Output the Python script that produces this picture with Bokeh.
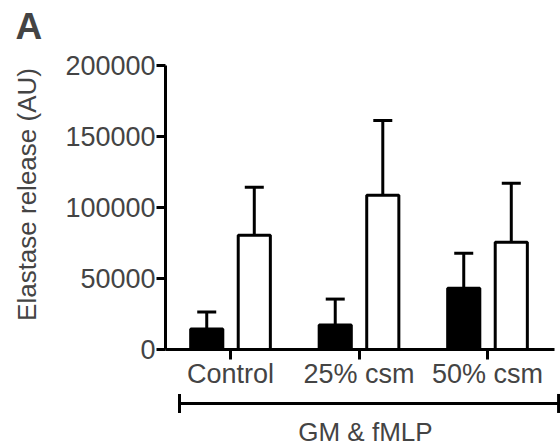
import math
from bokeh.plotting import figure
from bokeh.models import (Range1d, FixedTicker, NumeralTickFormatter, Label,
                          Whisker, TeeHead, ColumnDataSource)
from bokeh.embed import file_html
from bokeh.resources import INLINE

# ---- data ----
categories = ["Control", "25% csm", "50% csm"]
black_mean = [14400, 17200, 43200]
black_err = [12000, 18300, 24600]
white_mean = [80500, 108600, 75600]
white_err = [33700, 52700, 41400]
y_ticks = [0, 50000, 100000, 150000, 200000]
y_title = "Elastase release (AU)"
group_label = "GM & fMLP"
panel_label = "A"

FONT = "Liberation Sans"
FS = "26px"
TFS = "27px"

xs = list(range(len(categories)))
off = 0.185
bw = 0.25

# the frame covers the whole canvas; axes are pinned with fixed_location
p = figure(width=560, height=448, output_backend="svg", toolbar_location=None,
           x_range=Range1d(-1.790, 2.568),
           y_range=Range1d(-69720, 245770),
           min_border_left=0, min_border_right=0, min_border_top=0,
           min_border_bottom=0)
p.outline_line_color = None
p.xgrid.visible = False
p.ygrid.visible = False

src_b = ColumnDataSource(dict(x=[x - off for x in xs], top=black_mean,
                              up=[m + e for m, e in zip(black_mean, black_err)]))
src_w = ColumnDataSource(dict(x=[x + off for x in xs], top=white_mean,
                              up=[m + e for m, e in zip(white_mean, white_err)]))

for src in (src_b, src_w):
    w = Whisker(base="x", lower="top", upper="up", source=src, dimension="height",
                line_width=3, line_color="black",
                upper_head=TeeHead(size=19, line_width=3, line_color="black"),
                lower_head=None, level="underlay")
    p.add_layout(w)

p.vbar(x="x", top="top", bottom=0, width=bw, source=src_b,
       fill_color="black", line_color="black", line_width=3)
p.vbar(x="x", top="top", bottom=0, width=bw, source=src_w,
       fill_color="white", line_color="black", line_width=3)

# y axis pinned at the left end of the category axis
ya = p.yaxis[0]
ya.fixed_location = -0.506
ya.ticker = FixedTicker(ticks=y_ticks)
ya.bounds = (0, 200000)
ya.formatter = NumeralTickFormatter(format="0")
ya.major_label_text_font = FONT
ya.major_label_text_font_size = TFS
ya.major_label_standoff = 1
ya.axis_line_width = 3
ya.major_tick_line_width = 3
ya.major_tick_in = 0
ya.major_tick_out = 9
ya.minor_tick_line_color = None

# x axis pinned at y = 0
xa = p.xaxis[0]
xa.fixed_location = 0
xa.bounds = (-0.506, 2.52)
xa.ticker = FixedTicker(ticks=xs)
xa.major_label_overrides = {i: c for i, c in zip(xs, categories)}
xa.major_label_text_font = FONT
xa.major_label_text_font_size = TFS
xa.major_label_standoff = 0
xa.axis_line_width = 3
xa.major_tick_line_width = 3
xa.major_tick_in = 0
xa.major_tick_out = 10
xa.minor_tick_line_color = None

# y axis title
p.add_layout(Label(x=-1.587, y=109150, text=y_title, angle=math.pi / 2,
                   text_align="center", text_baseline="middle",
                   text_font=FONT, text_font_size=FS))

# group bracket
br = ColumnDataSource(dict(b=[-38000], lo=[-0.397], hi=[2.553]))
p.add_layout(Whisker(base="b", lower="lo", upper="hi", source=br, dimension="width",
                     line_width=3, line_color="black",
                     lower_head=TeeHead(size=19, line_width=3, line_color="black"),
                     upper_head=TeeHead(size=19, line_width=3, line_color="black")))
p.add_layout(Label(x=1.05, y=-58450, text=group_label, text_align="center",
                   text_baseline="middle", text_font=FONT, text_font_size=FS))

# panel letter
p.add_layout(Label(x=-1.673, y=227460, text=panel_label, text_align="left",
                   text_baseline="middle", text_font=FONT,
                   text_font_size="37px", text_font_style="bold"))

open("out.html", "w").write(file_html(p, INLINE))
